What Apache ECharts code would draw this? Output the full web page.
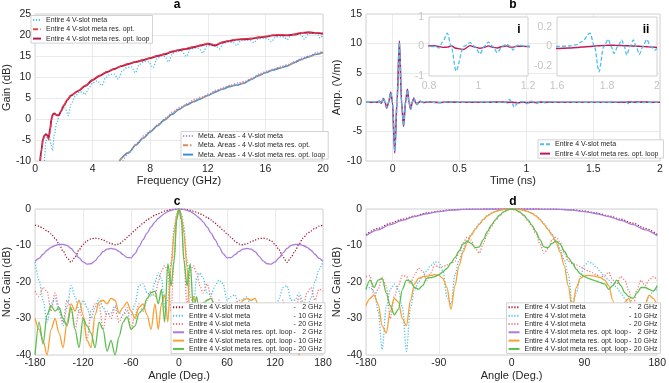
<!DOCTYPE html>
<html>
<head>
<meta charset="utf-8">
<script src="https://cdn.jsdelivr.net/npm/echarts@6/dist/echarts.min.js"></script>
<style>
html, body { margin: 0; padding: 0; background: #fff; }
#chart { width: 669px; height: 383px; }
</style>
</head>
<body>
<div id="chart"></div>
<script>
// ---- a: gain vs frequency ----
var aLoopF = [0.35,0.45,0.55,0.65,0.75,0.85,0.95,1.05,1.15,1.25,1.35,1.5,1.65,1.8,2.0,2.25,2.5,3.0,3.5,4.0,4.5,5.0,5.5,6.0,6.5,7.0,7.5,8.0,8.5,9.0,9.5,10,10.5,11,11.5,12,12.5,13,13.5,14,14.5,15,15.5,16,16.5,17,17.5,18,18.5,19,19.5,20];
var aLoop = [-10,-7.2,-4.8,-3.9,-3.6,-3.9,-4.4,-2.2,0.2,1.2,1.3,0.9,0.9,1.8,3.2,4.6,5.6,6.7,7.9,9.3,10.3,11.2,11.9,12.6,13.1,13.6,14.0,14.5,15.0,15.4,16.0,16.4,16.7,17.1,17.5,17.9,17.5,18.2,18.6,18.9,19.0,19.1,19.4,19.6,19.9,20.0,19.9,20.1,20.5,20.6,20.5,20.3];
var aOpt = [-10,-7.6,-5.2,-4.1,-3.8,-4.3,-5.0,-2.8,-0.2,1.0,1.2,0.9,1.0,1.9,3.3,4.7,5.7,6.8,8.0,9.4,10.4,11.3,12.0,12.7,13.2,13.7,14.1,14.6,15.1,15.5,16.1,16.5,16.8,17.2,17.6,18.0,17.7,18.3,18.7,19.0,19.1,19.2,19.5,19.7,20.0,20.1,20.0,20.2,20.6,20.7,20.6,20.4];
var aMetaF = [0.65,0.75,0.85,1.0,1.1,1.2,1.35,1.5,1.7,1.95,2.1,2.3,2.5,2.8,3.1,3.3,3.47,3.7,4.0,4.3,4.65,4.9,5.2,5.5,5.77,6.05,6.4,6.7,6.96,7.25,7.6,7.9,8.19,8.5,8.8,9.05,9.26,9.55,9.9,10.2,10.5,10.8,11.1,11.4,11.65,11.95,12.25,12.55,12.8,13.1,13.45,13.75,14.0,14.3,14.65,14.95,15.2,15.5,15.85,16.15,16.4,16.7,17.0,17.3,17.5,17.8,18.15,18.45,18.7,19.0,19.35,19.6,19.8,20.0];
var aMeta = [-10,-5.5,-3.8,-4.2,-6,-7.5,-3.5,-1,1.2,3.3,2.6,0.8,3.5,5.5,6.5,6.4,5.8,7.2,8.6,9.1,8.0,9.8,10.6,10.7,9.5,11.4,12.3,12.4,11.0,13.0,13.7,13.6,12.2,14.5,15.0,14.8,13.6,15.6,16.1,16.1,14.9,16.6,16.9,16.8,15.7,17.4,17.5,17.4,16.7,18.1,18.3,18.2,17.5,18.7,18.8,18.7,18.2,19.1,19.2,19.1,18.4,19.5,19.6,19.5,18.9,19.9,20.2,20.1,19.0,20.3,20.4,20.2,19.3,20.0];
var aAreaF = [5.85,6.5,7,7.5,8,8.5,9,9.5,10,10.5,11,11.5,12,12.5,13,13.5,14,14.5,15,15.5,16,16.5,17,17.5,18,18.5,19,19.5,20];
var aAreaLoop = [-10,-8,-6.2,-4.6,-3.1,-1.6,-0.2,1.1,2.3,3.3,4.1,4.8,5.6,6.4,7.1,7.7,8.1,8.5,9.4,10.3,11.0,11.6,12.1,12.6,13.4,14.2,14.8,15.4,15.9];
var aAreaOpt = [-10,-7.9,-6.1,-4.6,-3.0,-1.5,-0.2,1.2,2.4,3.3,4.2,4.9,5.6,6.5,7.1,7.8,8.2,8.6,9.4,10.3,11.1,11.7,12.2,12.7,13.4,14.1,14.8,15.3,15.8];
var aAreaMetaF = [6.1,6.6,7.1,7.6,8.1,8.6,9.1,9.6,10.1,10.6,11.1,11.6,12.1,12.6,13.1,13.6,14.1,14.6,15.1,15.6,16.1,16.6,17.1,17.6,18.1,18.6,19.1,19.6,20];
var aAreaMeta = [-10,-7.8,-5.6,-3.9,-2.6,-1.1,0.3,1.8,2.8,3.7,4.7,5.3,6.0,6.9,7.5,8.1,8.6,9.0,9.8,10.8,11.4,11.9,12.6,13.0,13.8,14.6,15.1,15.9,16.0];

// ---- b: time signal ----
var bT = [-0.2,-0.15,-0.12,-0.1,-0.085,-0.07,-0.057,-0.045,-0.03,-0.015,-0.002,0.015,0.032,0.05,0.066,0.081,0.096,0.11,0.122,0.134,0.146,0.158,0.17,0.182,0.194,0.206,0.23,0.26,0.3,0.35,0.4,0.5,0.6,0.7,0.8,0.823,0.84,0.855,0.874,0.89,0.909,0.94,0.966,0.985,1.006,1.023,1.04,1.058,1.076,1.095,1.114,1.128,1.14,1.15,1.16,1.2,1.3,1.4,1.5,1.6,1.65,1.68,1.7,1.732,1.75,1.768,1.787,1.805,1.817,1.828,1.843,1.859,1.869,1.879,1.892,1.905,1.917,1.929,1.944,1.959,1.975,1.992,2.0];
var bMeta = [0,0.05,0,0.2,-0.2,0.7,0,-0.9,0,1.6,0,-8.3,0,10.2,0,-4.0,0,2.1,0,-1.2,0,0.7,0,-0.4,0,0.15,-0.05,0.1,0,-0.1,0.05,0,0.05,0,0,0,-0.05,0.15,0.45,0,-0.83,0,0.13,0,-0.25,0,0.15,0,-0.21,0,0.08,0,-0.12,0,0.05,0,0.02,-0.02,0,0,0.005,0.02,0.05,0.135,0,-0.257,0,0.073,0,-0.07,0,0.066,0,-0.087,0,0.066,0,-0.08,0,0.07,0,-0.036,-0.02];
var bLoop = [0,0,0,0.15,-0.15,0.6,0,-1.0,0,1.7,0,-8.6,0,10.4,0,-4.1,0,2.2,0,-1.2,0,0.7,0,-0.4,0,0.15,-0.05,0.05,0,-0.05,0.03,0,0,0,0.02,0.03,0,-0.03,-0.02,0.02,-0.06,-0.1,0.03,-0.02,-0.06,-0.03,0.02,-0.03,-0.05,0,0.02,-0.02,-0.02,0,0.01,0,0,0,-0.01,-0.02,-0.015,-0.01,-0.005,0,0.005,0.008,0.01,0.012,0.012,0.012,0.01,0.01,0.008,0.008,0.006,0.005,0.004,0.002,0,-0.002,-0.005,-0.008,-0.01];
var bTicks = [0, 0.5, 1, 1.5, 2];
var bIiTicks = [-0.2, 0, 0.2];

// ---- c: patterns (angle) ----
var angC = [-180,-175,-170,-165,-160,-155,-150,-145,-140,-135,-130,-125,-120,-115,-110,-105,-100,-95,-90,-85,-80,-75,-70,-65,-60,-55,-50,-45,-40,-35,-30,-26,-22,-18,-14,-10,-6,-3,0,3,6,10,14,18,22,26,30,35,40,45,50,55,60,65,70,75,80,85,90,95,100,105,110,115,120,125,130,135,140,145,150,155,160,165,170,175,180];
var cMeta2 = [-4.4,-4.7,-5.3,-6.0,-6.8,-8.0,-9.6,-11.5,-13.3,-14.6,-13.2,-11.2,-9.7,-8.7,-8.2,-8.0,-8.1,-8.5,-9.0,-9.5,-9.8,-9.6,-8.8,-7.8,-6.8,-5.8,-4.8,-3.9,-3.0,-2.3,-1.7,
  -1.3,-0.9,-0.6,-0.35,-0.2,-0.07,-0.02,0,-0.02,-0.07,-0.2,-0.35,-0.6,-0.9,-1.3,
  -1.7,-2.3,-3.0,-3.9,-4.8,-5.8,-6.8,-7.8,-8.8,-9.6,-9.8,-9.5,-9.0,-8.5,-8.1,-8.0,-8.2,-8.7,-9.7,-11.2,-13.2,-14.6,-13.3,-11.5,-9.6,-8.0,-6.8,-6.0,-5.3,-4.7,-4.4];
var cMeta10 = [-14.5,-19.5,-25,-31,-26,-24.5,-28,-32,-27,-21,-24,-28,-25,-27,-30,-27,-24.5,-27,-29,-28.5,-26.5,-28.5,-29,-28,-29,-26,-21,-20.5,-23,-24,-20,
  -17.5,-19,-27,-25,-14.5,-4.8,-1.3,0,-1.3,-4.8,-14,-24,-26,-19,-17.5,
  -19,-23,-23.5,-21,-19.5,-20.5,-25,-24,-23.5,-27,-24.5,-24,-27,-30,-28,-26,-27,-30,-29,-24.5,-21.5,-21,-25,-25,-23,-25.5,-27,-24.5,-20,-16.5,-14.5];
var cMeta20 = [-22.5,-24,-21.5,-22.5,-28,-23,-27,-31,-25,-27,-33,-28,-30,-36,-28,-26,-26,-33,-28,-30,-27,-31,-29,-27,-33,-29,-26,-28,-25,-22.5,-24,
  -20,-17,-15.5,-17,-28,-13,-3,0,-3,-13,-27,-17,-15.5,-17.5,-21,
  -23,-20.5,-24,-27,-25,-29,-27,-31,-26,-25,-29,-27,-32,-26.5,-28,-33,-27,-29,-26.5,-31,-25,-28,-26,-30,-24,-27,-23,-21.5,-25,-22,-22.5];
var cLoop2 = [-14.3,-13.5,-12.4,-11.3,-10.5,-10.0,-9.7,-9.7,-10.0,-10.8,-12.0,-13.4,-14.5,-15.1,-15.0,-14.2,-12.9,-11.7,-11.0,-10.8,-11.0,-11.6,-12.5,-13.3,-13.4,-12.2,-10.3,-8.4,-6.6,-4.9,-3.5,
  -2.6,-1.9,-1.2,-0.7,-0.35,-0.12,-0.03,0,-0.03,-0.12,-0.35,-0.7,-1.2,-1.9,-2.6,
  -3.5,-4.9,-6.6,-8.4,-10.3,-12.2,-13.4,-13.3,-12.5,-11.6,-11.0,-10.8,-11.0,-11.7,-12.9,-14.2,-15.0,-15.1,-14.5,-13.4,-12.0,-10.8,-10.0,-9.7,-9.7,-10.0,-10.5,-11.3,-12.4,-13.5,-14.3];
var cLoop10 = [-30,-33,-36,-40,-33,-30,-34,-38,-31,-26,-28,-25,-29,-36,-38,-29,-25.5,-25,-26,-24.5,-25,-28.5,-27,-25.5,-28,-30,-27,-26,-29,-33,-26,
  -33,-26,-23.5,-31,-16,-6.5,-1.8,0,-1.8,-6.5,-16,-31,-24,-27,-32,
  -25.5,-27,-31,-27,-29,-33,-27,-30,-35,-28,-25,-24.5,-25,-24.5,-27,-31,-35,-30,-28,-33,-38,-32,-29,-35,-40,-33,-31,-36,-33,-30,-30];
var cLoop20 = [-40,-31,-37,-29,-26.5,-28,-27,-30,-32,-27,-33,-38,-30,-32,-34,-38,-31,-33,-39,-36,-40,-35,-31,-29.5,-33,-32,-28.5,-27.5,-24.5,-23,-22.5,
  -26,-22,-31,-15,-21,-14,-3,0,-3,-14,-21,-15,-28,-24,-30,
  -26,-25,-24.5,-27,-33,-30,-36,-31,-34,-38,-32,-30,-35,-31,-36,-33,-38,-32,-35,-30,-33,-37,-31,-34,-29,-32,-36,-31,-34,-38,-38];

// ---- d: patterns (angle) ----
var angD2 = [-180,-165,-150,-135,-120,-105,-90,-75,-60,-45,-30,-15,0,15,30,45,60,75,90,105,120,135,150,165,180];
var dMeta2 = [-7.0,-5.3,-3.9,-2.8,-1.9,-1.1,-0.6,-0.25,-0.08,-0.02,0,0,0,0,0,-0.02,-0.08,-0.25,-0.6,-1.1,-1.9,-2.8,-3.9,-5.3,-7.0];
var dLoop2 = [-7.3,-5.7,-4.3,-3.1,-2.1,-1.3,-0.7,-0.3,-0.1,-0.03,0,0,0,0,0,-0.03,-0.1,-0.3,-0.7,-1.3,-2.1,-3.1,-4.3,-5.7,-7.3];
var angD = [-180,-175,-170,-165,-160,-155,-150,-145,-140,-135,-130,-125,-120,-115,-110,-105,-100,-95,-90,-85,-80,-75,-70,-65,-60,-55,-50,-45,-40,-35,-30,-25,-20,-15,-10,-5,0,5,10,15,20,25,30,35,40,45,50,55,60,65,70,75,80,85,90,95,100,105,110,115,120,125,130,135,140,145,150,155,160,165,170,175,180];
var dMeta10 = [-22,-21.5,-22.5,-28,-38.5,-27,-22,-20.6,-22,-27,-39,-27,-22,-20,-18.5,-17,-15.5,-14.5,-14.6,-17,-24,-26,-18,-14,-11,-8.7,-6.9,-5.4,-4.0,-2.8,-1.8,-1.1,-0.65,-0.32,-0.14,-0.04,
  0,
  -0.04,-0.14,-0.32,-0.65,-1.1,-1.8,-2.8,-4.0,-5.4,-6.9,-8.7,-11,-14,-18,-26,-23,-18.5,-15.5,-14.4,-15,-16,-17.3,-18.5,-19.5,-20.5,-21.5,-23,-24.5,-26.5,-30,-36,-31,-26,-24,-22.5,-22];
var dMeta20 = [-18.5,-18.3,-24,-22,-18.7,-21,-30,-24,-21,-18.2,-18.5,-20.5,-18,-16.2,-17,-19.5,-17.5,-15.2,-16,-15.8,-15.3,-14.9,-14.3,-12,-9.2,-7.7,-8.5,-10.8,-12.1,-9.5,-6.8,-4.8,-3.2,-1.9,-0.9,-0.3,
  0,
  -0.3,-0.9,-1.9,-3.2,-4.8,-6.8,-9.5,-12.1,-10.8,-8.5,-7.7,-9.2,-12,-14.3,-14.9,-15.3,-15.8,-16.5,-17,-17.5,-18,-18.8,-18.2,-17.3,-19.5,-20.5,-18.5,-19.5,-22.5,-27,-22,-19.5,-21,-19.5,-18.5,-19.5];
var dLoop10 = [-26.5,-24.5,-23.6,-26,-32,-34,-28,-24.5,-25.5,-30,-32,-25,-20.5,-19,-18.6,-18.4,-18.2,-18,-18.2,-19,-21.5,-27.5,-21,-15.5,-11.8,-9.2,-7.2,-5.6,-4.2,-2.9,-1.9,-1.2,-0.7,-0.35,-0.15,-0.04,
  0,
  -0.04,-0.15,-0.35,-0.7,-1.2,-1.9,-2.9,-4.2,-5.6,-7.2,-9.2,-11.8,-15.5,-21,-27.5,-21.5,-19,-18.3,-18.2,-18.3,-18.5,-18.8,-19.5,-21,-25,-32,-30,-25.5,-24.5,-28,-34,-32,-26,-23.6,-24.5,-26.5];
var dLoop20 = [-22,-19.5,-21.5,-19.5,-19,-23,-26.5,-29,-27.5,-22,-19.5,-19.8,-21.5,-22,-21,-19,-18.8,-18.5,-18,-17.2,-16.3,-14.8,-13.3,-11.5,-9.6,-8.8,-9.4,-10.6,-10.4,-8.4,-6.2,-4.4,-2.9,-1.7,-0.8,-0.25,
  0,
  -0.25,-0.8,-1.7,-2.9,-4.4,-6.2,-8.4,-10.4,-10.6,-9.4,-8.8,-9.6,-11.5,-13.3,-14.8,-16.5,-17.8,-18.5,-19,-19.4,-19.8,-20.2,-20.5,-22,-21,-19.5,-21,-23,-24,-24.5,-23,-21.5,-21.5,-22,-22.5,-21];

var FONT = 'Liberation Sans, Arial, Helvetica, sans-serif';
var TXT = '#262626';

function zip(xs, ys) {
  return xs.map(function (x, i) { return [x, ys[i]]; });
}

var grids = [
  {left: 31, top: 14, width: 292, height: 147, z: 0},
  {left: 366, top: 14, width: 294, height: 147, z: 0},
  {left: 31, top: 209, width: 292, height: 146, z: 0},
  {left: 366, top: 209, width: 294, height: 146, z: 0},
  {left: 429, top: 17, width: 99, height: 59, z: 3},
  {left: 557, top: 17, width: 100, height: 59, z: 3}
].map(function (g) {
  g.show = true; g.backgroundColor = '#fff'; g.borderColor = '#c4c4c4'; g.borderWidth = 0.8;
  return g;
});

function axis(gi, o) {
  var a = {
    type: 'value', gridIndex: gi, min: o.min, max: o.max,
    axisLine: {show: false},
    axisTick: {show: false},
    splitLine: {show: !o.inset, lineStyle: {color: '#e4e4e4', width: 0.8}},
    axisLabel: {color: o.inset ? '#c4c4c4' : TXT, fontSize: 10.5, fontFamily: FONT, margin: o.margin || 4},
    z: o.inset ? 4 : 0
  };
  if (o.interval != null) a.interval = o.interval;
  if (o.ticks) { a.axisLabel.customValues = o.ticks; a.axisTick.customValues = o.ticks; }
  if (o.name) {
    a.name = o.name; a.nameLocation = 'middle'; a.nameGap = o.gap;
    a.nameTextStyle = {color: TXT, fontSize: 11, fontFamily: FONT};
  }
  return a;
}

var xAxes = [
  axis(0, {min: 0, max: 20, interval: 4, name: 'Frequency (GHz)', gap: 14, margin: 3}),
  axis(1, {min: -0.2, max: 2, ticks: bTicks, name: 'Time (ns)', gap: 14, margin: 3}),
  axis(2, {min: -180, max: 180, interval: 60, name: 'Angle (Deg.)', gap: 15, margin: 3}),
  axis(3, {min: -180, max: 180, interval: 90, name: 'Angle (Deg.)', gap: 15, margin: 3}),
  axis(4, {min: 0.8, max: 1.2, interval: 0.2, inset: true, margin: 5}),
  axis(5, {min: 1.6, max: 2, interval: 0.2, inset: true, margin: 5})
];
var yAxes = [
  axis(0, {min: -10, max: 25, interval: 5, name: 'Gain (dB)', gap: 19}),
  axis(1, {min: -10, max: 15, interval: 5, name: 'Amp. (V/m)', gap: 19}),
  axis(2, {min: -40, max: 0, interval: 10, name: 'Nor. Gain (dB)', gap: 19}),
  axis(3, {min: -40, max: 0, interval: 10, name: 'Nor. Gain (dB)', gap: 19.5}),
  axis(4, {min: -1, max: 1, interval: 1, inset: true, margin: 5}),
  axis(5, {min: -0.3, max: 0.3, ticks: bIiTicks, inset: true, margin: 5})
];

var DOT = [1.2, 1.7];
function ln(name, gi, xs, ys, color, width, dash, z) {
  return {
    type: 'line', name: name, xAxisIndex: gi, yAxisIndex: gi, data: zip(xs, ys),
    symbol: 'none', smooth: 0.3, smoothMonotone: 'x', clip: true, z: z || 2,
    lineStyle: {color: color, width: width, type: dash || 'solid'},
    itemStyle: {color: color}, emphasis: {disabled: true}
  };
}

var N = {
  m: 'Entire 4 V-slot meta', o: 'Entire 4 V-slot meta res. opt.', l: 'Entire 4 V-slot meta res. opt. loop',
  am: 'Meta. Areas - 4 V-slot meta', ao: 'Meta. Areas - 4 V-slot meta res. opt.', al: 'Meta. Areas - 4 V-slot meta res. opt. loop',
  bm: 'Entire 4 V-slot meta ', bl: 'Entire 4 V-slot meta res. opt. loop '
};
var cdNames = [
  'Entire 4 V-slot meta - 2 GHz', 'Entire 4 V-slot meta - 10 GHz', 'Entire 4 V-slot meta - 20 GHz',
  'Entire 4 V-slot meta res. opt. loop - 2 GHz', 'Entire 4 V-slot meta res. opt. loop - 10 GHz', 'Entire 4 V-slot meta res. opt. loop - 20 GHz'
];
var C = {dred: '#a2142f', cyan: '#4dbeee', pink: '#f27878', purple: '#a87ddd', orange: '#f7a035', green: '#5cbf4f'};

var series = [
  ln(N.m, 0, aMetaF, aMeta, '#4dbeee', 1.3, DOT),
  ln(N.l, 0, aLoopF, aLoop, '#b8174f', 1.9),
  ln(N.o, 0, aLoopF, aOpt, '#e8453c', 1.1, [5, 2.5]),
  ln(N.am, 0, aAreaMetaF, aAreaMeta, '#b48ae6', 1.3, DOT),
  ln(N.al, 0, aAreaF, aAreaLoop, '#3d8fd6', 1.6),
  ln(N.ao, 0, aAreaF, aAreaOpt, '#d98c5f', 1.1, [5, 2, 1.5, 2]),

  ln(N.bl, 1, bT, bLoop, '#c2185b', 1.6),
  ln(N.bm, 1, bT, bMeta, '#4dbeee', 1.4, [4, 2]),
  ln(N.bl, 4, bT, bLoop, '#c2185b', 1.4, null, 5),
  ln(N.bm, 4, bT, bMeta, '#4dbeee', 1.3, [4, 2], 5),
  ln(N.bl, 5, bT, bLoop, '#c2185b', 1.4, null, 5),
  ln(N.bm, 5, bT, bMeta, '#4dbeee', 1.3, [4, 2], 5),

  ln(cdNames[0], 2, angC, cMeta2, C.dred, 1.3, DOT),
  ln(cdNames[1], 2, angC, cMeta10, C.cyan, 1.3, DOT),
  ln(cdNames[2], 2, angC, cMeta20, C.pink, 1.3, DOT),
  ln(cdNames[3], 2, angC, cLoop2, C.purple, 1.3),
  ln(cdNames[4], 2, angC, cLoop10, C.orange, 1.3),
  ln(cdNames[5], 2, angC, cLoop20, C.green, 1.3),

  ln(cdNames[0], 3, angD2, dMeta2, C.dred, 1.3, DOT),
  ln(cdNames[1], 3, angD, dMeta10, C.cyan, 1.3, DOT),
  ln(cdNames[2], 3, angD, dMeta20, C.pink, 1.3, DOT),
  ln(cdNames[3], 3, angD2, dLoop2, C.purple, 1.3),
  ln(cdNames[4], 3, angD, dLoop10, C.orange, 1.3),
  ln(cdNames[5], 3, angD, dLoop20, C.green, 1.3)
];

function legendBox(names, left, top, iw, gap, extra) {
  var l = {
    data: names, left: left, top: top, orient: 'vertical',
    itemWidth: iw, itemHeight: 7, itemGap: gap, padding: [1, 3, 1, 1],
    backgroundColor: '#fff', borderColor: '#c8c8c8', borderWidth: 0.8,
    selectedMode: false, z: 6,
    // hide the marker the line legend puts in the middle, keep the line
    itemStyle: {opacity: 0, borderWidth: 0},
    textStyle: {fontSize: 7, lineHeight: 7, color: TXT, fontFamily: FONT}
  };
  for (var k in extra) l[k] = extra[k];
  return l;
}
var richCD = {
  n: {width: 104.5, fontSize: 7, color: TXT, fontFamily: FONT},
  d: {width: 4.5, fontSize: 7, color: TXT, fontFamily: FONT},
  f: {width: 24, align: 'right', fontSize: 7, color: TXT, fontFamily: FONT}
};
function cdFmt(name) {
  var p = name.split(' - ');
  return '{n|' + p[0] + '}{d|-}{f|' + p[1] + '}';
}

var legends = [
  legendBox([N.m, N.o, N.l], 31, 15.5, 8, 2.3),
  legendBox([N.am, N.ao, N.al], 181, 131.5, 10, 2.3),
  legendBox([N.bm, N.bl], 538, 139.8, 10, 2.3),
  legendBox(cdNames, 171, 302.8, 11, 1.33, {formatter: cdFmt, textStyle: {fontSize: 7, lineHeight: 7, color: TXT, fontFamily: FONT, rich: richCD}}),
  legendBox(cdNames, 506.5, 302.8, 11, 1.33, {formatter: cdFmt, textStyle: {fontSize: 7, lineHeight: 7, color: TXT, fontFamily: FONT, rich: richCD}})
];

function ttl(t, x, y) {
  return {text: t, left: x, top: y, textAlign: 'center', padding: 0, z: 7,
    textStyle: {fontSize: 12, fontWeight: 'bold', color: '#000', fontFamily: FONT}};
}

var chart = echarts.init(document.getElementById('chart'), null, {renderer: 'canvas'});
chart.setOption({
  animation: false,
  backgroundColor: '#fff',
  textStyle: {fontFamily: FONT},
  title: [ttl('a', 177, -1), ttl('b', 513, -1), ttl('c', 177, 195.5), ttl('d', 513, 195.5), ttl('i', 519, 23.5), ttl('ii', 646, 23.5)],
  grid: grids,
  xAxis: xAxes,
  yAxis: yAxes,
  legend: legends,
  series: series
});
</script>
</body>
</html>
